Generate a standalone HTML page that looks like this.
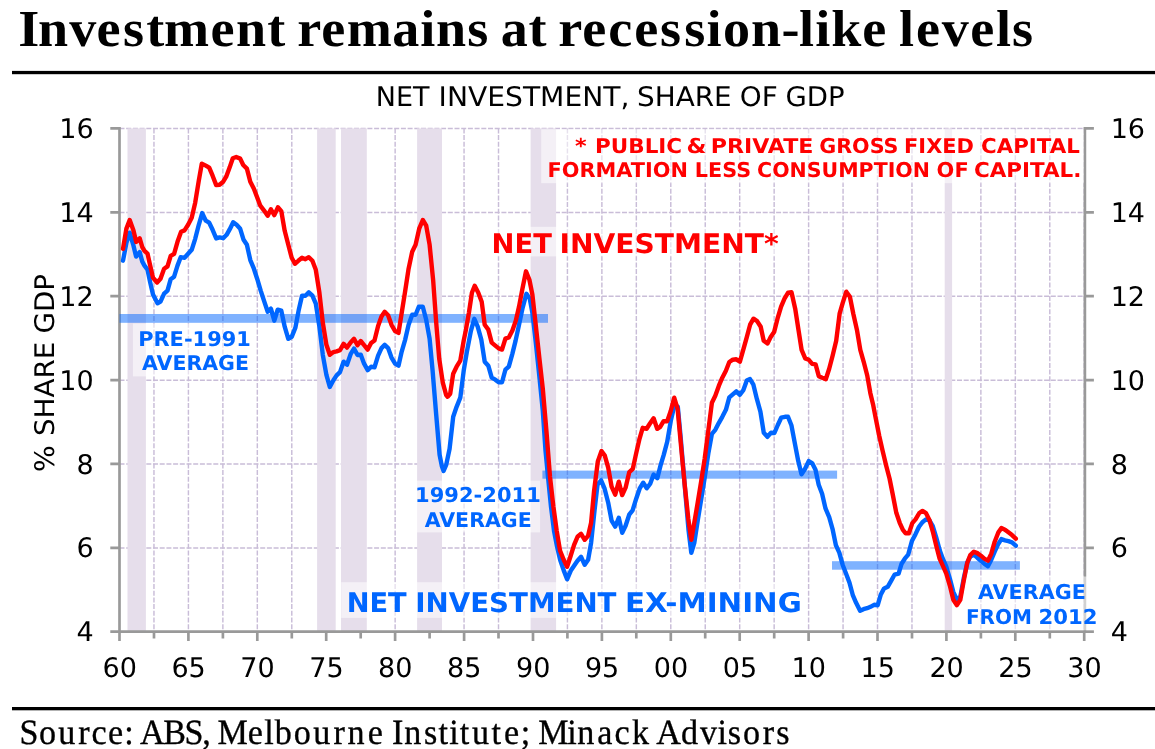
<!DOCTYPE html>
<html lang="en"><head><meta charset="utf-8"><title>Investment remains at recession-like levels</title>
<style>
html,body{margin:0;padding:0;background:#fff}
body{width:1155px;height:749px;overflow:hidden}
svg{display:block}
text{white-space:pre;text-rendering:geometricPrecision}
.ttl{font-family:"Liberation Serif",serif;font-weight:bold;font-size:52px;fill:#000}
.src{font-family:"Liberation Serif",serif;font-size:35.5px;fill:#000;stroke:#000;stroke-width:0.35px}
.lab{font-family:"DejaVu Sans","Liberation Sans",sans-serif;fill:#000}
.b{font-family:"DejaVu Sans","Liberation Sans",sans-serif;font-weight:bold}
</style></head>
<body>
<svg width="1155" height="749" viewBox="0 0 1155 749">
<rect width="1155" height="749" fill="#fff"/>
<text transform="translate(0 46.2) scale(1.0400 1)" x="17.55 36.63 66.57 92.72 118.29 140.65 157.70 202.38 226.87 257.00 275.24 285.87 308.92 333.52 377.13 404.12 419.32 449.30 470.34 481.41 508.15 526.35 536.83 559.78 584.85 609.78 634.68 657.85 679.22 695.22 722.21 751.53 768.34 783.98 799.31 829.21 853.12 864.40 880.70 905.56 932.96 957.81 973.05" y="0" class="ttl">Investment remains at recession-like levels</text>
<rect x="12" y="70.9" width="1143" height="3.3" fill="#000"/>
<rect x="12" y="707" width="1143" height="3.3" fill="#000"/>
<text transform="translate(0 743.6) scale(0.9600 1)" x="20.20 40.50 60.78 81.49 95.38 112.46 129.43 137.76 145.78 170.18 192.23 210.80 219.11 226.47 258.14 275.17 286.23 305.97 326.40 347.28 362.08 383.09 400.10 408.34 421.09 441.60 456.82 468.05 478.85 491.56 512.03 525.06 542.33 552.29 560.58 590.82 601.30 622.26 640.17 658.23 676.46 683.49 709.35 729.25 747.38 758.16 773.83 794.67 808.68" y="0" class="src">Source: ABS, Melbourne Institute; Minack Advisors</text>
<text y="105.8" class="lab" font-size="27.0"><tspan x="375.80" textLength="53.70" lengthAdjust="spacingAndGlyphs">NET</tspan> <tspan x="438.60" textLength="190.80" lengthAdjust="spacingAndGlyphs">INVESTMENT,</tspan> <tspan x="637.00" textLength="94.70" lengthAdjust="spacingAndGlyphs">SHARE</tspan> <tspan x="739.80" textLength="38.00" lengthAdjust="spacingAndGlyphs">OF</tspan> <tspan x="785.50" textLength="59.10" lengthAdjust="spacingAndGlyphs">GDP</tspan></text>
<path d="M119.5 547.97H1084.2M119.5 464.08H1084.2M119.5 380.20H1084.2M119.5 296.32H1084.2M119.5 212.43H1084.2M119.5 128.55H1084.2" stroke="#c9bdd8" stroke-width="1.45" stroke-dasharray="5 1.7" fill="none"/>
<path d="M153.96 128.4V631.7M188.41 128.4V631.7M222.87 128.4V631.7M257.32 128.4V631.7M291.78 128.4V631.7M326.23 128.4V631.7M360.69 128.4V631.7M395.14 128.4V631.7M429.60 128.4V631.7M464.05 128.4V631.7M498.51 128.4V631.7M532.96 128.4V631.7M567.42 128.4V631.7M601.88 128.4V631.7M636.33 128.4V631.7M670.79 128.4V631.7M705.24 128.4V631.7M739.70 128.4V631.7M774.15 128.4V631.7M808.61 128.4V631.7M843.06 128.4V631.7M877.52 128.4V631.7M911.97 128.4V631.7M946.43 128.4V631.7M980.88 128.4V631.7M1015.34 128.4V631.7M1049.79 128.4V631.7M1084.25 128.4V631.7" stroke="#c9bdd8" stroke-width="1.45" stroke-dasharray="5 1.7" fill="none"/>
<rect x="127.5" y="128.4" width="18.4" height="503.3" fill="#e6deeb"/>
<rect x="317.1" y="128.4" width="18.6" height="503.3" fill="#e6deeb"/>
<rect x="341" y="128.4" width="25.8" height="503.3" fill="#e6deeb"/>
<rect x="417.1" y="128.4" width="24.9" height="503.3" fill="#e6deeb"/>
<rect x="530.6" y="128.4" width="25.5" height="503.3" fill="#e6deeb"/>
<rect x="944.7" y="128.4" width="7.4" height="503.3" fill="#e6deeb"/>
<g stroke="#999999" stroke-width="2.67" fill="none">
<path d="M119.5 127.1V633.0M1084.9 127.1V633.0M110.3 631.7H1093.9"/>
<path d="M110.3 547.8H119.5M1084.9 547.8H1093.9M110.3 463.9H119.5M1084.9 463.9H1093.9M110.3 380.1H119.5M1084.9 380.1H1093.9M110.3 296.2H119.5M1084.9 296.2H1093.9M110.3 212.3H119.5M1084.9 212.3H1093.9M110.3 128.4H119.5M1084.9 128.4H1093.9M119.5 631.7v9.3M154.0 631.7v6.8M188.4 631.7v9.3M222.9 631.7v6.8M257.3 631.7v9.3M291.8 631.7v6.8M326.2 631.7v9.3M360.7 631.7v6.8M395.1 631.7v9.3M429.6 631.7v6.8M464.1 631.7v9.3M498.5 631.7v6.8M533.0 631.7v9.3M567.4 631.7v6.8M601.9 631.7v9.3M636.3 631.7v6.8M670.8 631.7v9.3M705.2 631.7v6.8M739.7 631.7v9.3M774.2 631.7v6.8M808.6 631.7v9.3M843.1 631.7v6.8M877.5 631.7v9.3M912.0 631.7v6.8M946.4 631.7v9.3M980.9 631.7v6.8M1015.3 631.7v9.3M1049.8 631.7v6.8M1084.2 631.7v9.3"/>
</g>
<text x="93.6" y="641.2" class="lab" font-size="27.0" text-anchor="end">4</text>
<text x="1110.7" y="641.2" class="lab" font-size="27.0">4</text>
<text x="93.6" y="557.4" class="lab" font-size="27.0" text-anchor="end">6</text>
<text x="1110.7" y="557.4" class="lab" font-size="27.0">6</text>
<text x="93.6" y="473.5" class="lab" font-size="27.0" text-anchor="end">8</text>
<text x="1110.7" y="473.5" class="lab" font-size="27.0">8</text>
<text x="93.6" y="389.6" class="lab" font-size="27.0" text-anchor="end">10</text>
<text x="1110.7" y="389.6" class="lab" font-size="27.0">10</text>
<text x="93.6" y="305.7" class="lab" font-size="27.0" text-anchor="end">12</text>
<text x="1110.7" y="305.7" class="lab" font-size="27.0">12</text>
<text x="93.6" y="221.8" class="lab" font-size="27.0" text-anchor="end">14</text>
<text x="1110.7" y="221.8" class="lab" font-size="27.0">14</text>
<text x="93.6" y="138.0" class="lab" font-size="27.0" text-anchor="end">16</text>
<text x="1110.7" y="138.0" class="lab" font-size="27.0">16</text>
<text x="119.7" y="677.3" class="lab" font-size="27.0" text-anchor="middle">60</text>
<text x="188.6" y="677.3" class="lab" font-size="27.0" text-anchor="middle">65</text>
<text x="257.5" y="677.3" class="lab" font-size="27.0" text-anchor="middle">70</text>
<text x="326.4" y="677.3" class="lab" font-size="27.0" text-anchor="middle">75</text>
<text x="395.3" y="677.3" class="lab" font-size="27.0" text-anchor="middle">80</text>
<text x="464.3" y="677.3" class="lab" font-size="27.0" text-anchor="middle">85</text>
<text x="533.2" y="677.3" class="lab" font-size="27.0" text-anchor="middle">90</text>
<text x="602.1" y="677.3" class="lab" font-size="27.0" text-anchor="middle">95</text>
<text x="671.0" y="677.3" class="lab" font-size="27.0" text-anchor="middle">00</text>
<text x="739.9" y="677.3" class="lab" font-size="27.0" text-anchor="middle">05</text>
<text x="808.8" y="677.3" class="lab" font-size="27.0" text-anchor="middle">10</text>
<text x="877.7" y="677.3" class="lab" font-size="27.0" text-anchor="middle">15</text>
<text x="946.6" y="677.3" class="lab" font-size="27.0" text-anchor="middle">20</text>
<text x="1015.5" y="677.3" class="lab" font-size="27.0" text-anchor="middle">25</text>
<text x="1084.5" y="677.3" class="lab" font-size="27.0" text-anchor="middle">30</text>
<text transform="translate(54.2 373.5) rotate(-90)" class="lab" font-size="27.0"><tspan x="-98.54" textLength="26.70" lengthAdjust="spacingAndGlyphs">%</tspan> <tspan x="-62.60" textLength="94.32" lengthAdjust="spacingAndGlyphs">SHARE</tspan> <tspan x="39.90" textLength="59.58" lengthAdjust="spacingAndGlyphs">GDP</tspan></text>
<rect x="132.9" y="323.5" width="123.3" height="52.9" fill="#fff" fill-opacity="0.55"/>
<rect x="415.5" y="480.6" width="124.6" height="51.8" fill="#fff" fill-opacity="0.55"/>
<rect x="961" y="576.5" width="142.0" height="53.7" fill="#fff" fill-opacity="0.55"/>
<rect x="341.2" y="582.2" width="466.1" height="35.7" fill="#fff" fill-opacity="0.55"/>
<rect x="487" y="226.8" width="298.0" height="29.6" fill="#fff" fill-opacity="0.55"/>
<rect x="541.2" y="129.3" width="542.4" height="53.9" fill="#fff" fill-opacity="0.55"/>
<rect x="119.5" y="314.0" width="428.5" height="8.8" fill="#0066ff" fill-opacity="0.5"/>
<rect x="542.4" y="470.6" width="294.7" height="8.1" fill="#0066ff" fill-opacity="0.5"/>
<rect x="832" y="561.2" width="187.9" height="8.5" fill="#0066ff" fill-opacity="0.5"/>
<path d="M123.0 260.7L126.4 242.9L129.7 232.7L133.2 244.6L136.1 256.6L139.7 252.2L142.3 261.6L144.5 265.6L147.5 269.6L150.0 281.6L153.0 294.6L157.5 303.3L160.5 301.6L164.1 293.6L167.5 290.6L170.7 279.2L174.1 276.7L177.5 265.6L180.7 257.2L184.5 257.8L188.1 253.8L191.7 249.8L195.2 238.8L198.8 224.8L202.2 213.1L205.8 220.7L209.2 222.7L212.6 229.8L216.2 238.4L219.6 237.4L223.2 238.2L226.6 234.8L229.8 229.2L233.2 222.3L236.6 224.8L240.2 228.8L243.6 239.8L246.9 244.8L250.3 260.1L253.9 268.7L257.3 279.2L260.7 290.6L264.3 301.6L267.7 311.7L270.9 308.7L274.3 320.7L277.7 309.7L281.3 310.7L284.7 326.7L288.3 338.8L291.7 336.8L295.4 327.7L298.8 309.7L302.0 295.7L305.4 295.7L308.8 292.3L312.4 295.7L315.8 303.7L319.4 326.7L322.8 354.8L326.4 374.8L329.8 386.9L333.4 380.2L336.6 375.4L340.0 372.1L343.6 361.7L347.0 364.7L350.6 354.2L354.0 348.6L357.5 355.0L360.7 354.6L364.1 363.7L367.7 370.1L371.1 366.7L374.5 367.3L378.1 355.6L381.5 348.1L384.7 344.8L388.1 348.1L391.5 357.6L395.1 363.7L398.5 365.7L401.7 351.6L405.2 339.6L408.6 324.8L412.2 314.8L415.6 314.8L418.8 306.8L422.8 306.8L426.2 319.8L429.6 338.6L432.6 370.7L436.2 414.8L439.6 454.8L441.8 465.9L443.6 470.9L446.2 464.9L449.6 448.8L453.2 416.8L456.6 406.8L460.3 397.7L463.7 370.7L466.9 351.6L470.9 330.9L474.3 318.8L477.7 326.6L481.3 339.6L484.7 361.7L488.3 365.7L491.7 377.7L495.3 379.7L498.7 382.3L502.0 382.3L505.4 369.7L508.8 366.7L512.4 353.6L515.6 340.6L518.8 325.9L522.4 308.8L526.4 293.8L529.8 298.8L532.4 312.8L535.8 342.6L539.4 376.7L542.8 410.8L545.5 450.6L548.0 476.7L551.0 506.7L554.0 530.8L557.1 546.8L560.1 559.8L563.7 570.4L567.1 579.3L570.7 570.8L574.1 565.8L577.5 560.8L581.1 556.8L584.7 564.8L588.1 559.8L591.1 542.8L594.5 510.7L597.5 484.7L601.1 480.3L604.6 488.7L608.2 502.7L611.6 520.7L615.2 526.7L618.8 517.7L622.2 532.8L625.6 525.7L629.2 514.7L632.6 510.3L636.2 498.7L639.6 488.7L643.2 482.7L646.8 488.3L650.2 483.7L653.6 474.6L657.3 478.2L660.5 465.6L663.8 454.6L667.2 441.8L670.8 420.8L674.4 405.6L677.8 406.6L680.6 436.6L683.5 470.6L686.0 500.6L688.6 530.8L691.3 552.8L694.3 542.8L697.7 520.7L701.3 498.7L704.7 477.6L708.3 453.6L711.9 433.8L715.3 429.8L718.9 422.8L722.3 416.8L725.9 409.8L729.3 397.4L732.8 394.4L736.3 391.3L739.9 394.8L743.3 390.2L746.8 380.6L750.0 379.1L753.4 384.7L756.8 398.7L760.4 411.6L763.8 432.8L767.4 436.8L771.0 432.8L774.4 433.0L777.8 425.0L781.2 417.7L785.0 416.8L788.0 416.7L791.4 425.2L794.6 442.2L798.2 460.8L801.5 474.3L805.1 468.7L808.7 461.1L812.1 463.1L815.5 469.7L818.7 484.8L822.1 493.8L825.5 508.4L829.2 517.2L832.5 528.8L835.9 545.3L839.3 552.6L842.6 564.7L846.1 573.7L849.5 582.8L852.7 594.8L856.1 602.8L860.1 610.8L863.5 609.2L867.1 608.2L870.5 606.8L874.1 604.8L877.7 605.2L880.7 594.8L884.1 588.4L887.7 586.8L891.1 580.8L894.5 574.7L898.6 573.7L901.6 563.7L904.8 558.7L908.2 554.7L911.9 541.1L915.4 534.4L919.0 526.8L922.4 522.2L925.9 519.4L929.4 520.5L932.7 525.8L936.2 537.3L939.8 550.6L942.8 558.7L946.3 566.7L949.9 578.8L953.3 591.8L956.9 599.6L960.3 596.6L963.7 578.6L967.3 562.6L970.3 556.6L973.9 554.7L977.3 557.7L980.9 560.7L984.3 563.7L987.9 566.3L991.3 559.7L994.7 551.7L998.4 543.7L1001.4 539.1L1005.0 540.3L1008.4 541.1L1012.0 542.3L1015.8 545.7" fill="none" stroke="#0066ff" stroke-width="4.4" stroke-linejoin="round" stroke-linecap="round"/>
<path d="M123.0 248.9L126.4 228.6L129.7 220.1L133.4 230.2L136.2 241.9L139.7 238.4L142.3 247.1L144.5 250.9L147.5 253.6L150.0 264.8L153.0 277.8L157.1 282.5L160.5 278.8L164.1 268.8L167.5 266.4L170.7 255.8L174.1 253.8L177.5 241.8L181.1 231.8L184.5 230.4L188.1 224.8L191.7 217.7L195.2 202.7L198.8 180.7L201.8 163.6L205.8 165.6L209.2 167.6L212.6 175.7L216.2 185.1L219.6 184.7L223.2 181.7L226.2 176.7L229.6 167.6L232.8 158.2L236.2 157.0L240.2 158.6L243.2 165.0L246.9 168.6L250.3 181.7L253.9 188.7L257.3 197.7L260.3 205.7L263.9 210.3L267.7 215.7L270.9 209.3L274.3 215.1L277.9 207.3L281.3 211.1L284.7 230.8L288.3 244.8L291.7 257.8L294.9 263.8L298.3 260.8L302.0 257.8L305.4 259.2L308.8 257.2L312.4 260.8L315.8 269.8L319.4 292.7L322.8 322.7L326.4 344.8L329.8 354.8L333.4 352.1L336.6 351.4L340.0 350.1L343.6 343.8L347.0 347.6L350.6 342.4L354.0 338.8L357.5 345.2L360.7 341.0L364.1 345.1L367.7 349.6L371.1 343.1L374.5 340.6L378.1 325.9L381.5 316.4L384.7 311.8L388.1 315.2L391.5 324.8L395.1 331.1L398.5 332.9L401.7 312.8L405.2 290.8L408.6 268.7L412.2 251.7L415.6 244.7L419.2 228.7L422.8 220.0L426.2 225.7L429.6 244.7L433.2 280.8L436.2 322.6L439.2 358.6L442.8 382.7L446.2 395.1L447.6 396.7L450.2 393.7L453.2 373.7L456.6 366.7L460.3 360.7L463.7 340.6L465.7 330.9L468.9 312.8L471.9 292.8L474.7 285.8L478.3 292.8L481.7 301.8L484.7 324.8L488.3 329.6L491.7 342.6L495.3 345.6L498.7 348.4L502.0 349.6L505.4 338.6L508.8 337.4L512.4 330.5L515.8 320.8L519.0 306.8L522.4 288.8L526.0 271.3L529.4 279.8L532.4 294.8L535.8 325.6L539.4 358.6L542.8 388.7L546.4 430.8L550.0 476.7L553.4 506.7L556.7 530.8L560.1 550.8L563.7 559.8L567.1 566.8L570.7 555.8L574.1 544.8L577.5 536.8L581.1 533.8L584.7 539.8L588.1 535.8L591.1 522.7L594.1 490.7L597.8 461.6L601.5 451.1L604.8 455.6L608.2 467.6L611.6 486.7L615.2 494.7L618.8 481.7L622.2 495.1L625.6 487.7L629.3 472.1L632.8 468.9L636.1 453.6L639.5 438.8L642.7 427.8L646.6 428.8L649.8 423.8L653.6 418.2L657.2 428.8L660.2 426.8L663.6 421.2L667.2 421.2L670.8 410.8L674.2 397.7L677.6 408.8L680.2 436.8L682.8 464.9L684.7 484.7L688.3 518.7L691.3 539.8L694.3 522.7L697.7 502.7L701.3 480.7L704.7 458.6L708.3 430.8L711.9 402.7L715.3 395.7L718.9 385.7L722.3 377.7L725.9 370.7L729.3 362.0L732.8 359.7L736.3 359.3L739.9 361.7L743.3 349.6L746.8 337.1L750.1 324.7L753.5 318.7L757.1 321.1L760.7 326.7L763.7 340.7L767.5 343.4L770.7 337.1L774.1 332.1L777.5 318.7L781.1 306.7L784.5 298.7L788.1 292.7L791.5 292.3L795.2 308.7L798.6 330.7L801.6 349.8L805.2 358.4L808.8 359.8L812.2 363.8L815.6 364.4L818.8 376.2L822.2 377.8L825.8 379.2L829.2 368.8L832.6 355.8L836.2 340.8L839.6 313.7L842.8 302.7L846.3 291.7L849.9 296.7L853.3 313.7L856.9 329.7L860.3 349.8L863.7 361.8L867.3 375.8L870.3 392.9L873.3 405.6L875.6 417.6L879.2 435.7L882.6 450.7L886.2 465.7L889.6 478.8L892.8 494.8L896.3 512.8L899.7 522.8L902.9 529.9L905.7 533.3L908.9 533.3L912.3 523.1L915.7 519.1L919.3 513.0L922.5 510.9L926.0 513.1L929.5 520.2L932.8 531.6L936.2 545.6L939.6 558.7L942.8 565.7L946.3 573.7L949.9 585.8L953.3 599.8L956.9 605.2L960.3 599.8L963.7 580.8L967.3 562.7L970.3 555.1L973.9 551.7L977.3 553.1L980.9 555.7L984.3 558.7L987.9 560.7L991.3 553.7L994.7 541.7L998.4 532.3L1001.4 528.1L1005.0 529.7L1008.4 532.3L1012.0 535.1L1015.8 538.7" fill="none" stroke="#ff0000" stroke-width="4.4" stroke-linejoin="round" stroke-linecap="round"/>
<text y="345.9" class="b" font-size="20.4" fill="#0066ff"><tspan x="138.20" textLength="112.60" lengthAdjust="spacingAndGlyphs">PRE-1991</tspan></text>
<text y="369.7" class="b" font-size="20.4" fill="#0066ff"><tspan x="142.00" textLength="107.00" lengthAdjust="spacingAndGlyphs">AVERAGE</tspan></text>
<text y="501.8" class="b" font-size="20.4" fill="#0066ff"><tspan x="415.10" textLength="125.70" lengthAdjust="spacingAndGlyphs">1992-2011</tspan></text>
<text y="526.7" class="b" font-size="20.4" fill="#0066ff"><tspan x="424.70" textLength="107.10" lengthAdjust="spacingAndGlyphs">AVERAGE</tspan></text>
<text y="598.8" class="b" font-size="20.4" fill="#0066ff"><tspan x="978.00" textLength="107.80" lengthAdjust="spacingAndGlyphs">AVERAGE</tspan></text>
<text y="623.7" class="b" font-size="20.4" fill="#0066ff"><tspan x="965.90" textLength="66.20" lengthAdjust="spacingAndGlyphs">FROM</tspan> <tspan x="1038.40" textLength="59.00" lengthAdjust="spacingAndGlyphs">2012</tspan></text>
<text y="611.8" class="b" font-size="27.0" fill="#0066ff"><tspan x="346.70" textLength="60.00" lengthAdjust="spacingAndGlyphs">NET</tspan> <tspan x="415.30" textLength="201.20" lengthAdjust="spacingAndGlyphs">INVESTMENT</tspan> <tspan x="625.00" textLength="176.80" lengthAdjust="spacingAndGlyphs">EX-MINING</tspan></text>
<text y="252.8" class="b" font-size="27.0" fill="#ff0000"><tspan x="491.60" textLength="60.30" lengthAdjust="spacingAndGlyphs">NET</tspan> <tspan x="559.50" textLength="219.20" lengthAdjust="spacingAndGlyphs">INVESTMENT*</tspan></text>
<text y="153.0" class="b" font-size="20.4" fill="#ff0000"><tspan x="574.90" textLength="11.60" lengthAdjust="spacingAndGlyphs">*</tspan> <tspan x="595.10" textLength="87.00" lengthAdjust="spacingAndGlyphs">PUBLIC</tspan> <tspan x="686.50" textLength="19.90" lengthAdjust="spacingAndGlyphs">&amp;</tspan> <tspan x="710.70" textLength="102.80" lengthAdjust="spacingAndGlyphs">PRIVATE</tspan> <tspan x="819.20" textLength="79.30" lengthAdjust="spacingAndGlyphs">GROSS</tspan> <tspan x="904.10" textLength="69.80" lengthAdjust="spacingAndGlyphs">FIXED</tspan> <tspan x="981.10" textLength="98.70" lengthAdjust="spacingAndGlyphs">CAPITAL</tspan></text>
<text y="176.6" class="b" font-size="20.4" fill="#ff0000"><tspan x="547.40" textLength="140.60" lengthAdjust="spacingAndGlyphs">FORMATION</tspan> <tspan x="694.80" textLength="56.30" lengthAdjust="spacingAndGlyphs">LESS</tspan> <tspan x="757.10" textLength="172.80" lengthAdjust="spacingAndGlyphs">CONSUMPTION</tspan> <tspan x="936.60" textLength="32.10" lengthAdjust="spacingAndGlyphs">OF</tspan> <tspan x="974.00" textLength="107.40" lengthAdjust="spacingAndGlyphs">CAPITAL.</tspan></text>
</svg>
</body></html>
